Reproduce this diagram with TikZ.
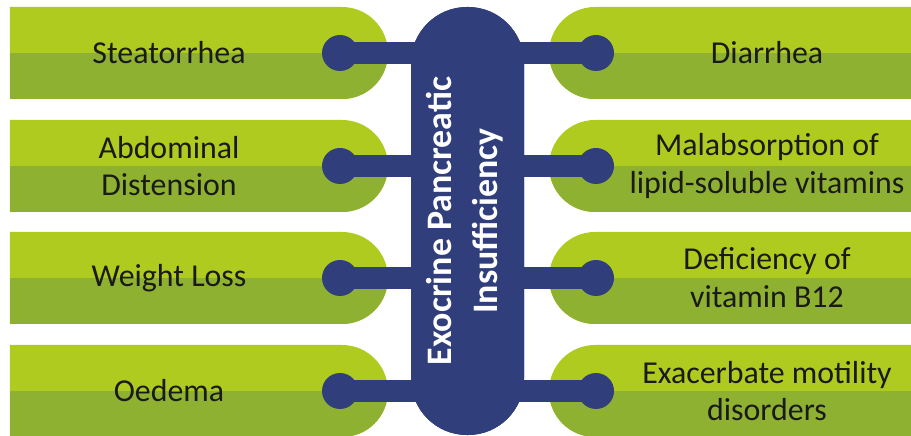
\documentclass[tikz,border=0pt]{standalone}
\usepackage{fontspec}
\setmainfont{Carlito}
\usetikzlibrary{shapes.misc,positioning}
\definecolor{eplime}{RGB}{175,203,31}
\definecolor{epolive}{RGB}{143,177,50}
\definecolor{epnavy}{RGB}{48,63,123}
\definecolor{epink}{RGB}{26,26,26}
\tikzstyle{symbox} = [rounded rectangle, minimum width=378bp, minimum height=92bp, inner sep=0pt, fill=eplime, path picture={\fill[epolive] (path picture bounding box.west) rectangle (path picture bounding box.south east);}]
\tikzstyle{symleft} = [symbox, rounded rectangle left arc=none]
\tikzstyle{symright} = [symbox, rounded rectangle right arc=none]
\tikzstyle{symtext} = [text=epink, align=center, font=\fontsize{32}{38}\selectfont, inner sep=0pt]
\tikzstyle{dot} = [circle, fill=epnavy, minimum size=36bp, inner sep=0pt]
\tikzstyle{bar} = [epnavy, line width=22bp]
\tikzstyle{core} = [rectangle, rounded corners=56bp, fill=epnavy, minimum width=113bp, minimum height=428bp]

\begin{document}
\begin{tikzpicture}[x=1bp, y=-1bp]
\clip (0,0) rectangle (911,436);
% symptom boxes
\node (bl1) [symleft] at (199,53) {};
\node (bl2) [symleft] at (199,166) {};
\node (bl3) [symleft] at (199,278) {};
\node (bl4) [symleft] at (199,391) {};
\node (br1) [symright] at (738,53) {};
\node (br2) [symright] at (738,166) {};
\node (br3) [symright] at (738,278) {};
\node (br4) [symright] at (738,391) {};
% dots
\node (dl1) [dot] at (340,53) {};
\node (dl2) [dot] at (340,166) {};
\node (dl3) [dot] at (340,278) {};
\node (dl4) [dot] at (340,391) {};
\node (dr1) [dot] at (596,53) {};
\node (dr2) [dot] at (596,166) {};
\node (dr3) [dot] at (596,278) {};
\node (dr4) [dot] at (596,391) {};
\node (epi) [core] at (467.5,221) {};
% bars
\draw [bar] (dl1.center) -- (dl1.center -| epi.center);
\draw [bar] (dl2.center) -- (dl2.center -| epi.center);
\draw [bar] (dl3.center) -- (dl3.center -| epi.center);
\draw [bar] (dl4.center) -- (dl4.center -| epi.center);
\draw [bar] (dr1.center) -- (dr1.center -| epi.center);
\draw [bar] (dr2.center) -- (dr2.center -| epi.center);
\draw [bar] (dr3.center) -- (dr3.center -| epi.center);
\draw [bar] (dr4.center) -- (dr4.center -| epi.center);
\node (epi2) [core] at (epi.center) {};
\node (epitext) [rotate=90, text=white, align=center, font=\bfseries\fontsize{36}{46}\selectfont] at (465,221) {Exocrine Pancreatic\\Insufficiency};
% labels
\node (tl1) [symtext] at (169,53) {Steatorrhea};
\node (tl2) [symtext] at (169,166) {Abdominal\\Distension};
\node (tl3) [symtext] at (169,278) {Weight Loss};
\node (tl4) [symtext] at (169,391) {Oedema};
\node (tr1) [symtext] at (767,53) {Diarrhea};
\node (tr2) [symtext] at (767,166) {Malabsorption of\\lipid-soluble vitamins};
\node (tr3) [symtext] at (767,278) {Deficiency of\\vitamin B12};
\node (tr4) [symtext] at (767,391) {Exacerbate motility\\disorders};
\end{tikzpicture}
\end{document}
